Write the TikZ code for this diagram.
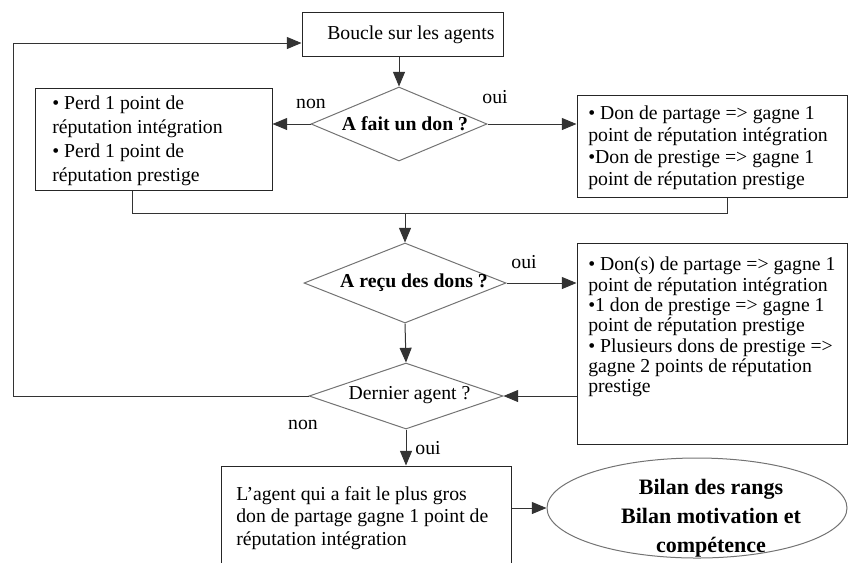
\documentclass[tikz,border=0pt]{standalone}
\usepackage{fontspec}
\setmainfont{Liberation Serif}
\usetikzlibrary{arrows.meta,shapes.geometric,calc}
\begin{document}
\begin{tikzpicture}[x=0.75pt,y=-0.75pt,
  box/.style={draw=black!85,line width=0.75pt,rectangle,inner sep=0pt},
  dia/.style={draw=black!55,line width=0.75pt,diamond,inner sep=0pt},
  ellbox/.style={draw=black!55,line width=0.75pt,ellipse,inner sep=0pt},
  txt/.style={inner sep=0pt,align=left,anchor=north west},
  lbl/.style={inner sep=0pt,font=\fontsize{14.8}{17}\selectfont},
  arr/.style={draw=black!80,line width=0.75pt,-{Triangle[length=11pt,width=9pt]}},
  con/.style={draw=black!80,line width=0.75pt}]
\useasboundingbox (0,0) rectangle (848,562);
\clip (0,0) rectangle (848,562);
% boxes
\node[box,minimum width=150.75pt,minimum height=33pt] (boucle) at (402.5,34) {};
\node[box,minimum width=177.75pt,minimum height=76.5pt] (lbox) at (153.5,139) {};
\node[box,minimum width=202.5pt,minimum height=76.5pt] (rbox1) at (712,146) {};
\node[box,minimum width=202.5pt,minimum height=150.75pt] (rbox2) at (712,343.5) {};
\node[box,minimum width=217.5pt,minimum height=85.5pt] (bbox) at (366,523) {};
% diamonds and ellipse
\node[dia,minimum width=132pt,minimum height=55.5pt] (d1) at (399,124) {};
\node[dia,minimum width=151.5pt,minimum height=60pt] (d2) at (405,283) {};
\node[dia,minimum width=145.5pt,minimum height=49.5pt] (d3) at (406,396) {};
\node[ellbox,minimum width=225pt,minimum height=75pt] (ell) at (697,508) {};
% texts
\node[lbl,anchor=base west] (tboucle) at (327,39) {Boucle sur les agents};
\node[txt,font=\fontsize{14.8}{18}\selectfont] (tlbox) at (52,96)
  {• Perd 1 point de\\réputation intégration\\• Perd 1 point de\\réputation prestige};
\node[txt,font=\fontsize{14.8}{16.3}\selectfont] (trbox1) at (588,106)
  {• Don de partage => gagne 1\\point de réputation intégration\\•Don de prestige => gagne 1\\point de réputation prestige};
\node[txt,font=\fontsize{14.8}{15.2}\selectfont] (trbox2) at (588,257)
  {• Don(s) de partage => gagne 1\\point de réputation intégration\\•1 don de prestige => gagne 1\\point de réputation prestige\\• Plusieurs dons de prestige =>\\gagne 2 points de réputation\\prestige};
\node[txt,font=\fontsize{14.8}{16.9}\selectfont] (tbbox) at (236,486)
  {L’agent qui a fait le plus gros\\don de partage gagne 1 point de\\réputation intégration};
\node[lbl,font=\fontsize{14.8}{17}\selectfont\bfseries] (td1) at (405,124) {A fait un don ?};
\node[lbl,font=\fontsize{14.8}{17}\selectfont\bfseries] (td2) at (414,283) {A reçu des dons ?};
\node[lbl] (td3) at (409.5,395) {Dernier agent ?};
\node[inner sep=0pt,align=center,font=\fontsize{16.5}{21.75}\selectfont\bfseries] (tell) at (711,518)
  {Bilan des rangs\\Bilan motivation et\\compétence};
% labels
\node[lbl] (non1) at (311,104) {non};
\node[lbl] (oui1) at (495,97) {oui};
\node[lbl] (oui2) at (524,262) {oui};
\node[lbl] (non2) at (303,425) {non};
\node[lbl] (oui3) at (428,448) {oui};
% connectors
\coordinate (merge) at (405,213);
\coordinate (loopx) at (13,0);
\draw[arr] (boucle.south -| d1.north) -- (d1.north);
\draw[arr] (d1.west) -- (d1.west -| lbox.east);
\draw[arr] (d1.east) -- (d1.east -| rbox1.west);
\draw[con] ($(lbox.south)+(-21.5,0)$) |- (merge) -| ($(rbox1.south)+(15,0)$);
\draw[arr] (merge) -- (d2.north);
\draw[arr] (d2.east) -- (d2.east -| rbox2.west);
\draw[arr] (d2.south) -- (d3.north);
\draw[arr] (rbox2.west |- d3.east) -- (d3.east);
\draw[arr] (d3.west) -- (d3.west -| loopx) |- ($(boucle.west)+(0,9)$);
\draw[arr] (d3.south) -- (d3.south |- bbox.north);
\draw[arr] (ell.west -| bbox.east) -- (ell.west);
\end{tikzpicture}
\end{document}
